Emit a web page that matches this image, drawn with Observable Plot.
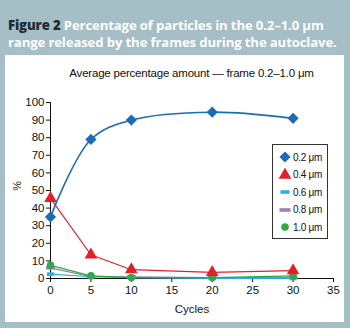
<!DOCTYPE html>
<html><head><meta charset="utf-8">
<script src="https://cdn.jsdelivr.net/npm/d3@7"></script>
<script src="https://cdn.jsdelivr.net/npm/@observablehq/plot@0.6"></script>
<style>
html,body{margin:0;padding:0;}
body{width:350px;height:328px;overflow:hidden;background:#a6bec6;position:relative;font-family:"Liberation Sans",Arial,sans-serif;}
#head{position:absolute;left:8px;top:17px;font-family:"Open Sans",sans-serif;font-weight:700;font-size:13.2px;line-height:17px;color:#fff;white-space:nowrap;letter-spacing:-0.15px;}
#head b{color:#1d2c33;}
#panel{position:absolute;left:5px;top:55px;width:339px;height:267px;background:#fff;}
#ctitle{position:absolute;left:45px;width:283px;top:12px;text-align:center;font-family:"Liberation Sans",sans-serif;font-size:11.5px;color:#111;letter-spacing:-0.2px;white-space:nowrap;}
#chart{position:absolute;left:0;top:0;}
#legend{position:absolute;left:267px;top:89px;width:56px;height:95px;border:1px solid #333;background:#fff;box-sizing:border-box;font-family:"Liberation Sans",sans-serif;font-size:10px;color:#111;}
.li{position:absolute;left:3px;height:14px;display:flex;align-items:center;white-space:nowrap;letter-spacing:-0.3px;}
.li svg{width:16px;height:14px;margin-right:1px;}
</style></head>
<body>
<div id="head"><b>Figure 2</b> Percentage of particles in the 0.2–1.0 μm<br>range released by the frames during the autoclave.</div>
<div id="panel">
  <div id="chart"></div>
  <div id="ctitle">Average percentage amount — frame 0.2–1.0 μm</div>
  <div id="legend"></div>
</div>
<script>
const cycles = [0, 5, 10, 20, 30];
const seriesNames = ["0.2 μm", "0.4 μm", "0.6 μm", "0.8 μm", "1.0 μm"];
const s02 = [35, 79, 90, 94.5, 91];
const s04 = [45.5, 13.5, 5, 3.5, 4.5];
const s06 = [2.5, 1, 0.5, 0, 0];
const s08 = [6, 1, 1, 0.5, 0.5];
const s10 = [7.5, 1.5, 0.5, 0.5, 1.5];
const xTicks = [0, 5, 10, 15, 20, 25, 30, 35];
const yTicks = [0, 10, 20, 30, 40, 50, 60, 70, 80, 90, 100];
const colors = ["#1c6cb5", "#e3202a", "#2aaee4", "#9b80b4", "#2fa84a"];
const lineColors = ["#1c6cb5", "#e3202a", "#2aaee4", "#8d8296", "#2fa84a"];

const values = [s02, s04, s06, s08, s10];
const rows = [];
values.forEach((vals, i) => vals.forEach((v, j) => rows.push({series: seriesNames[i], idx: i, x: cycles[j], y: v})));

// rectangle symbol: half-width w and half-height h in pixels (independent of size)
function rectSymbol(w, h) {
  return {draw(ctx) { ctx.rect(-w, -h, 2 * w, 2 * h); ctx.closePath(); }};
}
const symbols = [d3.symbolDiamond2, d3.symbolTriangle, rectSymbol(3.5, 1.8), rectSymbol(4.5, 1.6), d3.symbolCircle];
const legendSymbols = [d3.symbolDiamond2, d3.symbolTriangle, rectSymbol(4.5, 1.8), rectSymbol(5.5, 1.8), d3.symbolCircle];
const sizes = [80, 70, 40, 40, 45];

const marks = [];
const order = [3, 2, 4, 1, 0];
for (const i of order) {
  const d = rows.filter(r => r.idx === i);
  marks.push(Plot.line(d, {x: "x", y: "y", stroke: lineColors[i], strokeWidth: i === 0 ? 1.6 : 1.2, curve: i === 0 ? "catmull-rom" : "linear"}));
}
for (const i of order) {
  const d = rows.filter(r => r.idx === i);
  marks.push(Plot.dot(d, {x: "x", y: "y", fill: colors[i], stroke: "none", symbol: () => symbols[i], r: Math.sqrt(sizes[i] / Math.PI)}));
}

const chart = Plot.plot({
  width: 339, height: 267,
  marginLeft: 45, marginRight: 11, marginTop: 47, marginBottom: 44,
  style: {fontFamily: '"Liberation Sans",sans-serif', fontSize: "11.5px", color: "#111", background: "transparent"},
  x: {domain: [0, 35], label: null},
  y: {domain: [0, 100], label: null},
  marks: [
    Plot.axisX({ticks: xTicks, tickSize: 4, tickPadding: 3, label: null, stroke: "#111"}),
    Plot.axisY({ticks: yTicks, tickSize: 4, tickPadding: 2, label: null, stroke: "#111"}),
    Plot.ruleY([0], {stroke: "#111"}),
    Plot.ruleX([0], {stroke: "#111"}),
    ...marks,
    Plot.text(["Cycles"], {frameAnchor: "bottom", dy: 34, fontSize: 11.5}),
    Plot.text(["%"], {frameAnchor: "left", dx: -33, rotate: -90, fontSize: 10.5})
  ]
});
document.getElementById("chart").appendChild(chart);

// legend
const leg = document.getElementById("legend");
seriesNames.forEach((name, i) => {
  const div = document.createElement("div");
  div.className = "li";
  div.style.top = (5 + i * 17.5) + "px";
  const svg = d3.create("svg").attr("width", 16).attr("height", 14);
  svg.append("path").attr("transform", "translate(9,7)")
    .attr("d", d3.symbol(legendSymbols[i], sizes[i])()).attr("fill", colors[i]);
  div.appendChild(svg.node());
  const sp = document.createElement("span");
  sp.textContent = name;
  div.appendChild(sp);
  leg.appendChild(div);
});
</script>
</body></html>
